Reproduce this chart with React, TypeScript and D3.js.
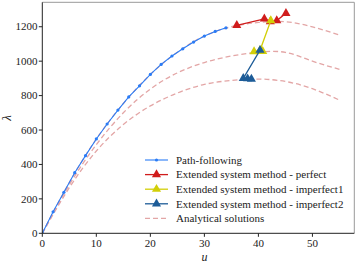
import React from "react";
import * as d3 from "d3";

// Path-following (u, λ)
const pathU = [0, 2, 4, 6, 8, 10, 12, 14, 16, 18, 20, 22, 24, 26, 28, 30, 32, 34];
const pathL = [0, 125, 238, 352, 451, 548, 635, 716, 792, 857, 923, 981, 1030, 1072, 1111, 1146, 1173, 1194];

// Extended system method
const perfU = [36.0, 41.1, 42.2, 43.4, 45.1];
const perfL = [1208, 1246, 1230, 1236, 1278];
const imp1U = [42.3, 40.3, 39.2, 40.8];
const imp1L = [1236, 1063, 1056, 1057];
const imp2U = [40.3, 37.2, 38.0, 38.7];
const imp2L = [1064, 900, 898, 896];

// Analytical solutions
const anaU = [0, 5, 10, 15, 20, 25, 30, 35, 40, 45, 50, 55];
const anaPerf = [0, 295, 548, 754, 923, 1052, 1146, 1200, 1225, 1229, 1199, 1152];
const anaImp1 = [0, 282, 515, 700, 838, 932, 992, 1030, 1052, 1051, 1000, 953];
const anaImp2 = [0, 265, 478, 632, 740, 815, 865, 888, 896, 882, 840, 774];

const xTicks = [0, 10, 20, 30, 40, 50];
const yTicks = [0, 200, 400, 600, 800, 1000, 1200];

const legendLabels = [
  "Path-following",
  "Extended system method - perfect",
  "Extended system method - imperfect1",
  "Extended system method - imperfect2",
  "Analytical solutions",
];

const C_PATH = "#2a7cf6";
const C_RED = "#d01c1c";
const C_YEL = "#d2cf08";
const C_DB = "#1d5c98";
const C_ANA = "#e3a6a6";

export default function App() {
  const W = 357, H = 263;
  const x = d3.scaleLinear().domain([0, 57.75]).range([42.3, 354.3]);
  const y = d3.scaleLinear().domain([0, 1342]).range([233.3, 2.3]);
  const font = "'Liberation Serif', serif";

  const mk = (us: number[], ls: number[]) => us.map((u, i) => [u, ls[i]] as [number, number]);
  const line = d3.line<[number, number]>().x(d => x(d[0])).y(d => y(d[1]));
  const smooth = d3.line<[number, number]>().x(d => x(d[0])).y(d => y(d[1])).curve(d3.curveNatural);
  const tri = d3.symbol().type(d3.symbolTriangle).size(36)();

  const ext = [
    { u: perfU, l: perfL, c: C_RED },
    { u: imp1U, l: imp1L, c: C_YEL },
    { u: imp2U, l: imp2L, c: C_DB },
  ];

  const lx0 = 145, lx1 = 168, ly0 = 160, ldy = 14.6;

  return (
    <svg width={W} height={H} style={{ position: "absolute", left: 0, top: 0 }} fontFamily={font}>
      <rect width={W} height={H} fill="#fff" />
      <defs>
        <clipPath id="clip">
          <rect x={42.3} y={2.3} width={312} height={231} />
        </clipPath>
      </defs>
      <g clipPath="url(#clip)">
        {[anaPerf, anaImp1, anaImp2].map((a, i) => (
          <path key={i} d={smooth(mk(anaU, a)) || ""} fill="none" stroke={C_ANA} strokeWidth={1.3} strokeDasharray="5,3" />
        ))}
        <path d={line(mk(pathU, pathL)) || ""} fill="none" stroke={C_PATH} strokeWidth={1.1} />
        {pathU.map((u, i) => (
          <circle key={i} cx={x(u)} cy={y(pathL[i])} r={1.6} fill={C_PATH} />
        ))}
        {ext.map((e, k) => (
          <g key={k}>
            <path d={line(mk(e.u, e.l)) || ""} fill="none" stroke={e.c} strokeWidth={1.3} />
            {e.u.map((u, i) => (
              <path key={i} d={tri || ""} transform={`translate(${x(u)},${y(e.l[i])})`} fill={e.c} />
            ))}
          </g>
        ))}
      </g>
      {/* spines */}
      <line x1={42.3} x2={354.3} y1={2.3} y2={2.3} stroke="#999" strokeWidth={1} />
      <line x1={354.3} x2={354.3} y1={2.3} y2={233.3} stroke="#999" strokeWidth={1} />
      <line x1={42.3} x2={42.3} y1={2.3} y2={233.3} stroke="#222" strokeWidth={1} />
      <line x1={42.3} x2={354.3} y1={233.3} y2={233.3} stroke="#222" strokeWidth={1} />
      {xTicks.map(t => (
        <g key={t}>
          <line x1={x(t)} x2={x(t)} y1={233.3} y2={236.8} stroke="#222" />
          <text x={x(t)} y={247} fontSize={11} textAnchor="middle" fill="#222">{t}</text>
        </g>
      ))}
      {yTicks.map(t => (
        <g key={t}>
          <line x1={38.8} x2={42.3} y1={y(t)} y2={y(t)} stroke="#222" />
          <text x={37.5} y={y(t) + 3.7} fontSize={11} textAnchor="end" fill="#222">{t}</text>
        </g>
      ))}
      <text x={204.5} y={260.5} fontSize={12} fontStyle="italic" textAnchor="middle" fill="#222">u</text>
      <text transform="translate(11,118) rotate(-90)" fontSize={13} fontStyle="italic" textAnchor="middle" fill="#222">λ</text>
      {/* legend */}
      {legendLabels.map((lab, i) => {
        const yy = ly0 + i * ldy;
        const cx = (lx0 + lx1) / 2;
        return (
          <g key={i}>
            {i === 0 && (
              <g>
                <line x1={lx0} x2={lx1} y1={yy} y2={yy} stroke={C_PATH} strokeWidth={1.1} />
                <circle cx={cx} cy={yy} r={1.6} fill={C_PATH} />
              </g>
            )}
            {i >= 1 && i <= 3 && (
              <g>
                <line x1={lx0} x2={lx1} y1={yy} y2={yy} stroke={ext[i - 1].c} strokeWidth={1.3} />
                <path d={tri || ""} transform={`translate(${cx},${yy})`} fill={ext[i - 1].c} />
              </g>
            )}
            {i === 4 && (
              <line x1={lx0} x2={lx1} y1={yy} y2={yy} stroke={C_ANA} strokeWidth={1.3} strokeDasharray="5,3" />
            )}
            <text x={176} y={yy + 3.7} fontSize={11} fill="#222">{lab}</text>
          </g>
        );
      })}
    </svg>
  );
}
